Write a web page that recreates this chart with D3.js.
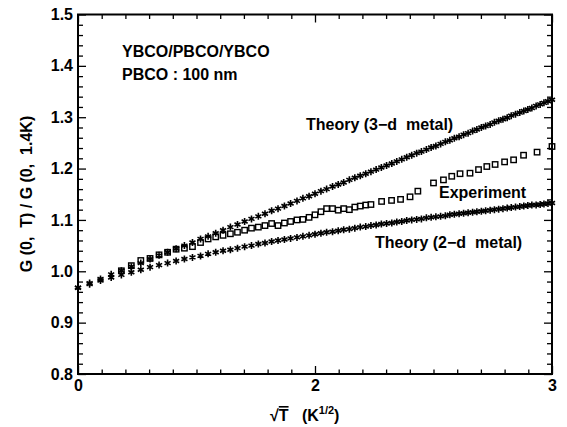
<!DOCTYPE html>
<html>
<head>
<meta charset="utf-8">
<script src="https://cdn.jsdelivr.net/npm/d3@7"></script>
<style>
  html, body { margin: 0; padding: 0; background: #fff; }
  svg { display: block; }
  text { font-family: "Liberation Sans", Arial, Helvetica, sans-serif; font-weight: bold; fill: #000; }
</style>
</head>
<body>
<div id="chart"></div>
<script>
// ---------------- data ----------------
// x positions of theory points (sqrt(T), K^1/2)
const theoryX = [1.000,1.049,1.095,1.140,1.183,1.225,1.265,1.304,1.342,1.378,1.414,1.449,1.483,1.517,1.549,1.581,1.612,1.643,1.673,1.703,1.732,1.761,1.789,1.817,1.844,1.871,1.897,1.924,1.949,1.975,2.000,2.025,2.049,2.074,2.098,2.121,2.145,2.168,2.191,2.214,2.236,2.258,2.280,2.302,2.324,2.345,2.366,2.387,2.408,2.429,2.449,2.470,2.490,2.510,2.530,2.550,2.569,2.588,2.608,2.627,2.646,2.665,2.683,2.702,2.720,2.739,2.757,2.775,2.793,2.811,2.828,2.846,2.864,2.881,2.898,2.915,2.933,2.950,2.966,2.983,3.000];
// Theory (3-d metal)
const theory3d = [0.968,0.977,0.985,0.994,1.001,1.009,1.016,1.024,1.031,1.037,1.044,1.050,1.056,1.063,1.068,1.074,1.080,1.086,1.091,1.097,1.102,1.107,1.112,1.118,1.122,1.127,1.132,1.137,1.142,1.146,1.151,1.156,1.160,1.165,1.169,1.173,1.178,1.182,1.186,1.190,1.194,1.198,1.202,1.206,1.210,1.214,1.218,1.222,1.226,1.230,1.233,1.237,1.241,1.244,1.248,1.252,1.255,1.259,1.262,1.266,1.269,1.273,1.276,1.280,1.283,1.286,1.290,1.293,1.296,1.299,1.303,1.306,1.309,1.312,1.315,1.318,1.322,1.325,1.328,1.331,1.334];
// Theory (2-d metal)
const theory2d = [0.968,0.975,0.982,0.988,0.993,0.998,1.003,1.008,1.012,1.016,1.020,1.024,1.027,1.030,1.034,1.037,1.040,1.042,1.045,1.048,1.050,1.053,1.055,1.058,1.060,1.062,1.064,1.066,1.068,1.070,1.072,1.074,1.076,1.077,1.079,1.081,1.082,1.084,1.086,1.087,1.089,1.090,1.092,1.093,1.094,1.096,1.097,1.099,1.100,1.101,1.102,1.104,1.105,1.106,1.107,1.108,1.110,1.111,1.112,1.113,1.114,1.115,1.116,1.117,1.118,1.119,1.120,1.121,1.122,1.123,1.124,1.125,1.126,1.127,1.128,1.129,1.129,1.130,1.131,1.132,1.133];
// Experiment
const expX = [1.183,1.225,1.265,1.304,1.342,1.378,1.414,1.449,1.483,1.517,1.549,1.581,1.612,1.643,1.673,1.703,1.732,1.761,1.789,1.817,1.844,1.871,1.897,1.924,1.949,1.975,2.000,2.025,2.049,2.074,2.098,2.121,2.145,2.168,2.191,2.214,2.236,2.281,2.323,2.361,2.401,2.434,2.500,2.542,2.577,2.612,2.654,2.690,2.725,2.760,2.800,2.838,2.880,2.937,3.000];
const expY = [1.001,1.011,1.021,1.025,1.032,1.037,1.043,1.045,1.048,1.056,1.063,1.067,1.070,1.073,1.076,1.080,1.084,1.086,1.089,1.093,1.089,1.094,1.097,1.100,1.101,1.105,1.110,1.116,1.122,1.122,1.119,1.122,1.120,1.125,1.127,1.129,1.130,1.136,1.138,1.140,1.145,1.156,1.172,1.178,1.185,1.190,1.191,1.198,1.204,1.208,1.213,1.217,1.226,1.232,1.243];

const xTickValues = [1, 2, 3];
const xTickLabels = ["0", "2", "3"];
const yTickValues = [0.8, 0.9, 1.0, 1.1, 1.2, 1.3, 1.4, 1.5];
const yTickLabels = ["0.8", "0.9", "1.0", "1.1", "1.2", "1.3", "1.4", "1.5"];
const xMinorTicks = [1.1,1.2,1.3,1.4,1.5,1.6,1.7,1.8,1.9,2.1,2.2,2.3,2.4,2.5,2.6,2.7,2.8,2.9];
const yMinorTicks = [0.82,0.84,0.86,0.88,0.92,0.94,0.96,0.98,1.02,1.04,1.06,1.08,1.12,1.14,1.16,1.18,1.22,1.24,1.26,1.28,1.32,1.34,1.36,1.38,1.42,1.44,1.46,1.48];

// ---------------- chart ----------------
const W = 567, H = 427;
const L = 78, R = 552, T = 14.5, B = 374;

const svg = d3.select("#chart").append("svg").attr("width", W).attr("height", H);

const x = d3.scaleLinear().domain([1, 3]).range([L, R]);
const y = d3.scaleLinear().domain([0.8, 1.5]).range([B, T]);

function styleAxis(g) {
  g.select(".domain").remove();
  g.selectAll(".tick line").attr("stroke", "#000").attr("stroke-width", 1.3);
  g.selectAll(".tick text").style("font-size", "16px").style("font-weight", "bold")
    .style("font-family", '"Liberation Sans", Arial, sans-serif').attr("fill", "#000");
}

// Left axis (labels + major ticks inward)
svg.append("g").attr("transform", `translate(${L},0)`)
  .call(d3.axisLeft(y).tickValues(yTickValues).tickFormat((d, i) => yTickLabels[i]).tickSize(-8).tickPadding(5))
  .call(styleAxis);
svg.append("g").attr("transform", `translate(${L},0)`)
  .call(d3.axisLeft(y).tickValues(yMinorTicks).tickFormat("").tickSize(-5))
  .call(styleAxis);
// Right axis
svg.append("g").attr("transform", `translate(${R},0)`)
  .call(d3.axisRight(y).tickValues(yTickValues).tickFormat("").tickSize(-8))
  .call(styleAxis);
svg.append("g").attr("transform", `translate(${R},0)`)
  .call(d3.axisRight(y).tickValues(yMinorTicks).tickFormat("").tickSize(-5))
  .call(styleAxis);
// Bottom axis
svg.append("g").attr("transform", `translate(0,${B})`)
  .call(d3.axisBottom(x).tickValues(xTickValues).tickFormat((d, i) => xTickLabels[i]).tickSize(-8).tickPadding(6))
  .call(styleAxis);
svg.append("g").attr("transform", `translate(0,${B})`)
  .call(d3.axisBottom(x).tickValues(xMinorTicks).tickFormat("").tickSize(-4.5))
  .call(styleAxis);
// Top axis
svg.append("g").attr("transform", `translate(0,${T})`)
  .call(d3.axisTop(x).tickValues(xTickValues).tickFormat("").tickSize(-8))
  .call(styleAxis);
svg.append("g").attr("transform", `translate(0,${T})`)
  .call(d3.axisTop(x).tickValues(xMinorTicks).tickFormat("").tickSize(-4.5))
  .call(styleAxis);

// Frame
svg.append("rect").attr("x", L).attr("y", T).attr("width", R - L).attr("height", B - T)
  .attr("fill", "none").attr("stroke", "#000").attr("stroke-width", 2);

// Asterisk marker
function asterisk(r) {
  let p = "";
  [90, 30, 150].forEach(a => {
    const rad = a * Math.PI / 180, dx = r * Math.cos(rad), dy = r * Math.sin(rad);
    p += `M${-dx},${-dy}L${dx},${dy}`;
  });
  return p;
}

const theoryData3 = theoryX.map((v, i) => [v, theory3d[i]]);
const theoryData2 = theoryX.map((v, i) => [v, theory2d[i]]);

[theoryData3, theoryData2].forEach(ds => {
  svg.append("g").selectAll("path").data(ds).join("path")
    .attr("transform", d => `translate(${x(d[0])},${y(d[1])})`)
    .attr("d", asterisk(3.5))
    .attr("stroke", "#000").attr("stroke-width", 1.6).attr("fill", "none");
});

const expData = expX.map((v, i) => [v, expY[i]]);
svg.append("g").selectAll("rect").data(expData).join("rect")
  .attr("x", d => x(d[0]) - 2.7).attr("y", d => y(d[1]) - 2.7)
  .attr("width", 5.4).attr("height", 5.4)
  .attr("fill", "none").attr("stroke", "#000").attr("stroke-width", 1.4);

// Annotations
const ann = svg.append("g").style("font-size", "16px");
ann.append("text").attr("x", 122).attr("y", 57).text("YBCO/PBCO/YBCO");
ann.append("text").attr("x", 122).attr("y", 80).text("PBCO : 100 nm");
ann.append("text").attr("x", 306).attr("y", 130).attr("xml:space", "preserve").text("Theory (3\u2212d  metal)");
ann.append("text").attr("x", 439).attr("y", 198).text("Experiment");
ann.append("text").attr("x", 375).attr("y", 248).attr("xml:space", "preserve").text("Theory (2\u2212d  metal)");

// Y axis title
svg.append("text")
  .attr("transform", `translate(32,${(113 + 275) / 2}) rotate(-90)`)
  .attr("text-anchor", "middle").style("font-size", "16px")
  .attr("xml:space", "preserve")
  .text("G (0,  T) / G (0,  1.4K)");

// X axis title
const xt = svg.append("text").attr("x", 270).attr("y", 421).style("font-size", "16px").attr("xml:space", "preserve");
xt.append("tspan").text("\u221A");
xt.append("tspan").style("text-decoration", "overline").text("T");
xt.append("tspan").text("   (K");
xt.append("tspan").attr("dy", -7).style("font-size", "11px").text("1/2");
xt.append("tspan").attr("dy", 7).text(")");
</script>
</body>
</html>
